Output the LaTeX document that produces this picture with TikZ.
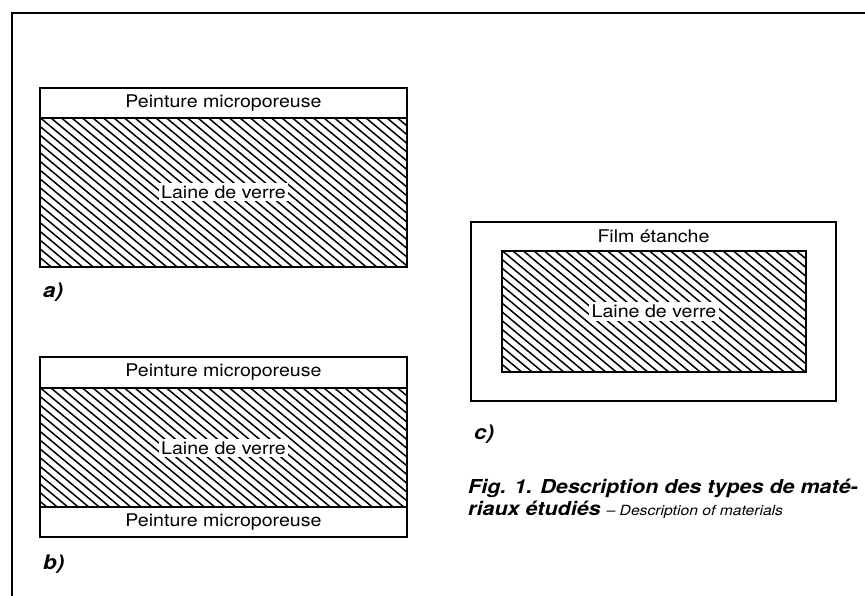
\documentclass[tikz,border=0pt]{standalone}
\usepackage{fontspec}
\setmainfont{TeX Gyre Heros}[FakeStretch=1.12]
\begin{document}
\begin{tikzpicture}[x=1pt,y=-1pt,
  lbl/.style={font=\fontsize{17.5}{20}\selectfont, inner sep=2.5pt},
  bglbl/.style={lbl, fill=white},
  tag/.style={font=\fontsize{20}{22}\selectfont\bfseries\itshape, anchor=base west, inner sep=0pt},
  boxline/.style={line width=2pt},
  hatchline/.style={line width=1.5pt},
  frameline/.style={line width=1.3pt}]
\useasboundingbox (0,0) rectangle (865,596);
% outer frame
\coordinate (ftr) at (865,13);
\coordinate (fc) at (12,13);
\coordinate (fbl) at (12,596);
\draw[frameline] (ftr) -- (fc) -- (fbl);

% hatching helper
\newcommand{\hatchrect}[4]{%
  \begin{scope}
  \clip (#1,#2) rectangle (#3,#4);
  \foreach \s in {-262,-251.5,...,420} \draw[hatchline] (#1+\s,#2) -- ++(240,200);
  \end{scope}}

% a)
\hatchrect{40}{118}{407}{267}
\draw[boxline] (40,88) rectangle (407,267);
\draw[boxline] (40,118) -- (407,118);
\node[lbl] (pa) at (223.5,103) {Peinture microporeuse};
\node[bglbl] (la) at (223.5,192) {Laine de verre};
\node[tag] (ta) at (43,298) {a)};

% b)
\hatchrect{40}{388}{407}{507}
\draw[boxline] (40,357) rectangle (407,537);
\draw[boxline] (40,388) -- (407,388);
\draw[boxline] (40,507) -- (407,507);
\node[lbl] (pb1) at (223.5,372.5) {Peinture microporeuse};
\node[bglbl] (lb) at (223.5,448) {Laine de verre};
\node[lbl] (pb2) at (223.5,522) {Peinture microporeuse};
\node[tag] (tb) at (43,569) {b)};

% c)
\hatchrect{502}{251}{806}{372}
\draw[boxline] (471,222) rectangle (836,401);
\draw[boxline] (502,251) rectangle (806,372);
\node[lbl] (fc1) at (653.5,236.5) {Film étanche};
\node[bglbl] (lc) at (654,311.5) {Laine de verre};
\node[tag] (tc) at (474,439) {c)};

% caption
\node[anchor=base west, inner sep=0pt, font=\fontsize{19.2}{21}\selectfont\bfseries\itshape] (cap1) at (468,493) {Fig. 1. Description des types de maté-};
\node[anchor=base west, inner sep=0pt, font=\fontsize{19.2}{21}\selectfont] (cap2) at (468,515) {\bfseries\itshape riaux étudiés \mdseries\fontsize{14}{16}\selectfont – Description of materials};
\end{tikzpicture}
\end{document}
